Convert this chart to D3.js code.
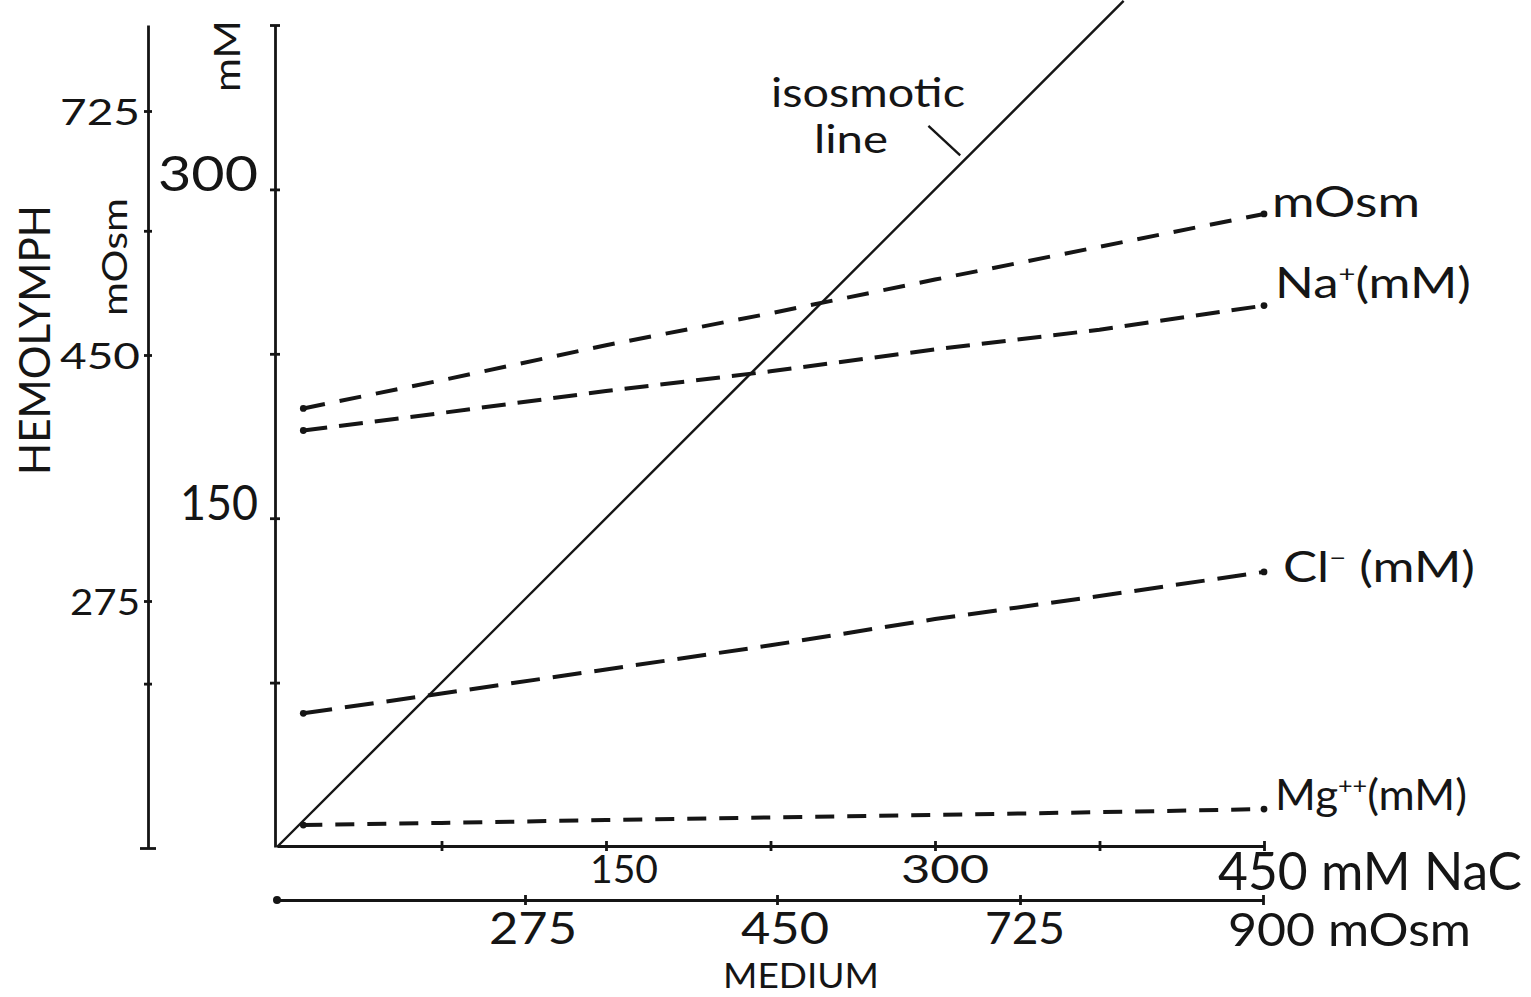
<!DOCTYPE html>
<html>
<head>
<meta charset="utf-8">
<script src="https://d3js.org/d3.v7.min.js"></script>
<style>
body { margin: 0; background: #fff; }
svg text { font-family: Lato, "DejaVu Sans", sans-serif; font-weight: 400; fill: #151515; }
.axis path, .axis line { stroke: #151515; stroke-width: 2.8; }
</style>
</head>
<body>
<div id="chart"></div>
<script>
// medium NaCl (mM) at which hemolymph was sampled
const mediumNaCl = [12, 75, 150, 225, 300, 375, 450];
// hemolymph values
const hemolymphOsm = [412, 432, 461, 497, 535, 572, 609];   // mOsm
const sodium = [190, 198, 208, 217, 227, 236, 247];         // mM
const chloride = [61, 70, 81, 92, 104, 114.5, 125.5];       // mM
const magnesium = [10, 11, 12.3, 13.5, 14.6, 15.9, 17.3];   // mM
const isosmotic = [0, 386];                                 // y = x, mM

// ticks
const mMTicks = [75, 150, 225, 300, 375];
const mMLabels = [150, 300];
const naclTicks = [75, 150, 225, 300, 375, 450];
const naclLabels = [150, 300];
const mediumOsmTicks = [275, 450, 725, 900];
const mediumOsmLabels = [275, 450, 725];
const hemoOsmTicks = [0, 183, 275, 450, 590, 725];
const hemoOsmLabels = [275, 450, 725];

const svg = d3.select("#chart").append("svg")
  .attr("width", 1531)
  .attr("height", 997);

const x = d3.scaleLinear().domain([0, 450]).range([277, 1264]);
const y = d3.scaleLinear().domain([0, 375]).range([847, 25]);
// the osmolality scales are hand drawn with uneven spacing
const xOsm = d3.scaleLinear().domain([0, 275, 450, 725, 900]).range([277, 525, 777, 1020, 1263]);
const yOsm = d3.scaleLinear().domain([0, 275, 450, 725, 822]).range([848, 601, 355, 111, 25]);

// ---- axes ----
const yAxis = svg.append("g").attr("class", "axis")
  .attr("transform", "translate(275,0)")
  .call(d3.axisLeft(y).tickValues(mMTicks).tickFormat("").tickSize(0));
yAxis.selectAll(".tick line").attr("x1", -5).attr("x2", 5);

const xAxis = svg.append("g").attr("class", "axis")
  .attr("transform", "translate(0,846)")
  .call(d3.axisBottom(x).tickValues(naclTicks).tickFormat("").tickSize(0));
xAxis.selectAll(".tick line").attr("y1", -5).attr("y2", 5);

const xOsmAxis = svg.append("g").attr("class", "axis")
  .attr("transform", "translate(0,900)")
  .call(d3.axisBottom(xOsm).tickValues(mediumOsmTicks).tickFormat("").tickSize(0));
xOsmAxis.selectAll(".tick line").attr("y1", -5).attr("y2", 5);
svg.append("circle").attr("cx", xOsm(0)).attr("cy", 900).attr("r", 4).attr("fill", "#151515");

const yOsmAxis = svg.append("g").attr("class", "axis")
  .attr("transform", "translate(148,0)")
  .call(d3.axisLeft(yOsm).tickValues(hemoOsmTicks).tickFormat("").tickSize(0));
yOsmAxis.selectAll(".tick line").attr("x1", d => d === 0 ? -8 : -4).attr("x2", d => d === 0 ? 8 : 4);

// ---- text helpers ----
function label(txt, px, py, size, len, anchor) {
  const t = svg.append("text")
    .attr("x", px).attr("y", py)
    .attr("font-size", size)
    .attr("text-anchor", anchor || "start")
    .text(txt);
  if (len) t.attr("textLength", len).attr("lengthAdjust", "spacingAndGlyphs");
  return t;
}
function vlabel(txt, bx, cy, size, len) {
  svg.append("text")
    .attr("transform", `translate(${bx},${cy}) rotate(-90)`)
    .attr("font-size", size)
    .attr("text-anchor", "middle")
    .attr("textLength", len).attr("lengthAdjust", "spacingAndGlyphs")
    .text(txt);
}

// tick labels
hemoOsmLabels.forEach(v => label(v, 140, yOsm(v) + 14, 37, v === 275 ? 70 : 80, "end"));
mMLabels.forEach(v => label(v, 258, y(v) + 2, 49, v === 300 ? 100 : 78, "end"));
naclLabels.forEach(v => label(v, x(v) + (v === 150 ? 18 : 10), 883, 39, v === 150 ? 68 : 88, "middle"));
mediumOsmLabels.forEach(v => label(v, xOsm(v) + (v === 725 ? 5 : 8), 944, 44, v === 725 ? 80 : 88, "middle"));
label("450 mM  NaC", 1218, 890, 52, 304);
label("900 mOsm", 1228, 946, 47, 243);
label("MEDIUM", 801, 988, 35, 156, "middle");

// axis titles
vlabel("HEMOLYMPH", 50, 340, 42, 270);
vlabel("mOsm", 127, 257, 35, 118);
vlabel("mM", 240, 56, 37, 72);

// ---- lines ----
svg.append("path")
  .datum(isosmotic)
  .attr("fill", "none")
  .attr("stroke", "#151515")
  .attr("stroke-width", 2.4)
  .attr("d", d3.line().x(d => x(d)).y(d => y(d)));

const series = [
  {name: "mOsm", values: hemolymphOsm, ys: yOsm, dash: "22,15"},
  {name: "Na", values: sodium, ys: y, dash: "24,12"},
  {name: "Cl", values: chloride, ys: y, dash: "29,13"},
  {name: "Mg", values: magnesium, ys: y, dash: "19,13"}
];

series.forEach(s => {
  const pts = s.values.map((v, i) => [x(mediumNaCl[i]), s.ys(v)]);
  svg.append("path")
    .datum(pts)
    .attr("fill", "none")
    .attr("stroke", "#151515")
    .attr("stroke-width", 4)
    .attr("stroke-dasharray", s.dash)
    .attr("d", d3.line());
  svg.selectAll(null)
    .data([pts[0], pts[pts.length - 1]])
    .join("circle")
    .attr("cx", d => d[0]).attr("cy", d => d[1])
    .attr("r", 3.4).attr("fill", "#151515");
});

// isosmotic annotation
label("isosmotic", 771, 107, 40, 194);
label("line", 814, 153, 39, 74);
svg.append("line")
  .attr("x1", x(297)).attr("y1", y(329))
  .attr("x2", x(311.5)).attr("y2", y(315.5))
  .attr("stroke", "#151515").attr("stroke-width", 2.4);

// series labels
label("mOsm", 1272, 217, 43, 148);

function ionLabel(base, sup, rest, px, py, len) {
  const t = svg.append("text").attr("x", px).attr("y", py).attr("font-size", 42);
  t.append("tspan").text(base);
  t.append("tspan").attr("font-size", 24).attr("dy", -16).text(sup);
  t.append("tspan").attr("dy", 16).text(rest);
  t.attr("textLength", len).attr("lengthAdjust", "spacingAndGlyphs");
}
ionLabel("Na", "+", "(mM)", 1275, 298, 196);
ionLabel("Cl", "\u2212", " (mM)", 1283, 582, 192);
ionLabel("Mg", "++", "(mM)", 1275, 810, 192);
</script>
</body>
</html>
